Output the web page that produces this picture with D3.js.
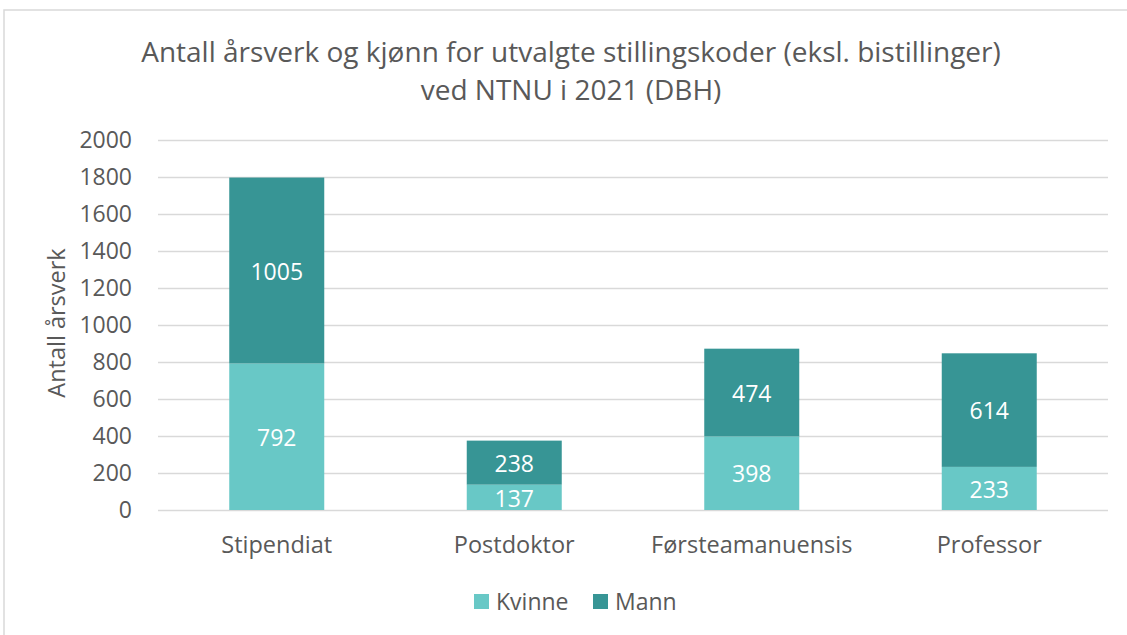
<!DOCTYPE html>
<html>
<head>
<meta charset="utf-8">
<script src="https://cdn.jsdelivr.net/npm/d3@7"></script>
<style>
  body { margin: 0; background: #fff; }
  svg, svg text { font-family: "Open Sans", sans-serif; }
</style>
</head>
<body>
<div id="chart"></div>
<script>
// Data
const categories = ['Stipendiat', 'Postdoktor', 'Førsteamanuensis', 'Professor'];
const seriesNames = ['Kvinne', 'Mann'];
const kvinne = [792, 137, 398, 233];
const mann = [1005, 238, 474, 614];
const yTicks = [0, 200, 400, 600, 800, 1000, 1200, 1400, 1600, 1800, 2000];
const colors = ['#68c8c6', '#379595'];

const W = 1127, H = 635;
const margin = {top: 140, right: 19, bottom: 125, left: 158};
const width = W - margin.left - margin.right;
const height = H - margin.top - margin.bottom;

const svg = d3.select('#chart').append('svg')
    .attr('width', W)
    .attr('height', H);

// Frame
svg.append('path')
    .attr('d', `M4,${H} L4,10 L${W},10`)
    .attr('fill', 'none')
    .attr('stroke', '#d9d9d9')
    .attr('stroke-width', 1.5);

const g = svg.append('g')
    .attr('transform', `translate(${margin.left},${margin.top})`);

const x = d3.scaleBand()
    .domain(categories)
    .range([0, width])
    .paddingInner(0.6)
    .paddingOuter(0.3);

const y = d3.scaleLinear()
    .domain([0, 2000])
    .range([height, 0]);

// Grid lines
g.append('g')
    .attr('class', 'grid')
    .call(d3.axisLeft(y).tickValues(yTicks).tickSize(-width).tickFormat(''))
    .call(s => s.select('.domain').remove())
    .selectAll('line')
    .attr('stroke', '#d9d9d9')
    .attr('stroke-width', 1.5);

// Y axis labels
g.append('g')
    .call(d3.axisLeft(y).tickValues(yTicks).tickSize(0).tickPadding(26).tickFormat(d3.format('d')))
    .call(s => s.select('.domain').remove())
    .selectAll('text')
    .attr('fill', '#595959')
    .style('font-size', '23px');

// X axis labels
g.append('g')
    .attr('transform', `translate(0,${height})`)
    .call(d3.axisBottom(x).tickSize(0).tickPadding(26))
    .call(s => s.select('.domain').remove())
    .selectAll('text')
    .attr('fill', '#595959')
    .style('font-size', '23.5px');

// Stacked data
const rows = categories.map((c, i) => ({cat: c, Kvinne: kvinne[i], Mann: mann[i]}));
const stacked = d3.stack().keys(seriesNames)(rows);

const layers = g.selectAll('.layer')
    .data(stacked)
    .enter()
    .append('g')
    .attr('fill', (d, i) => colors[i]);

layers.selectAll('rect')
    .data(d => d)
    .enter()
    .append('rect')
    .attr('x', d => x(d.data.cat))
    .attr('width', x.bandwidth())
    .attr('y', d => y(d[1]))
    .attr('height', d => y(d[0]) - y(d[1]));

layers.selectAll('.label')
    .data((d, i) => d.map(v => ({v, key: seriesNames[i]})))
    .enter()
    .append('text')
    .attr('x', d => x(d.v.data.cat) + x.bandwidth() / 2)
    .attr('y', d => y((d.v[0] + d.v[1]) / 2))
    .attr('dy', '0.4em')
    .attr('text-anchor', 'middle')
    .attr('fill', '#fff')
    .style('font-size', '23px')
    .text(d => d.v.data[d.key]);

// Y axis title
svg.append('text')
    .attr('transform', `translate(65,${margin.top + height / 2 - 2}) rotate(-90)`)
    .attr('text-anchor', 'middle')
    .attr('fill', '#595959')
    .style('font-size', '23.5px')
    .text('Antall årsverk');

// Title
const title = svg.append('text')
    .attr('text-anchor', 'middle')
    .attr('fill', '#595959')
    .style('font-size', '28px');
title.append('tspan').attr('x', 571).attr('y', 62)
    .text('Antall årsverk og kjønn for utvalgte stillingskoder (eksl. bistillinger)');
title.append('tspan').attr('x', 571).attr('y', 100)
    .text('ved NTNU i 2021 (DBH)');

// Legend
const legendItems = [{name: seriesNames[0], x: 474}, {name: seriesNames[1], x: 593}];
const legend = svg.append('g').attr('transform', 'translate(0,594)');
legendItems.forEach((d, i) => {
    legend.append('rect')
        .attr('x', d.x)
        .attr('y', 0)
        .attr('width', 15)
        .attr('height', 15)
        .attr('fill', colors[i]);
    legend.append('text')
        .attr('x', d.x + 22)
        .attr('y', 8)
        .attr('dy', '0.36em')
        .attr('fill', '#595959')
        .style('font-size', '23px')
        .text(d.name);
});
</script>
</body>
</html>
